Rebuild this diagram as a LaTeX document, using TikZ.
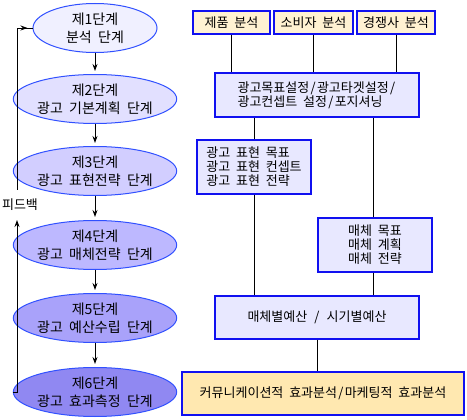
\documentclass[tikz,border=0pt]{standalone}
\usepackage{fontspec}
\setmainfont[WordSpace=2.0]{Noto Sans CJK KR}
\usetikzlibrary{shapes.geometric,arrows.meta,decorations.markings}
\definecolor{eA}{HTML}{F0F0FF}
\definecolor{eB}{HTML}{E2E0FF}
\definecolor{eC}{HTML}{D2CEFF}
\definecolor{eD}{HTML}{BDB8FF}
\definecolor{eE}{HTML}{A9A2FA}
\definecolor{eF}{HTML}{9088F2}
\definecolor{ebord}{HTML}{3050FF}
\definecolor{bbord}{HTML}{1010F0}
\definecolor{yfill}{HTML}{FFF2D2}
\definecolor{lfill}{HTML}{E8E8FF}
\definecolor{ofill}{HTML}{FFE8B0}
\newcommand{\slsh}{\kern1.3pt/\kern1.3pt}
\begin{document}
\begin{tikzpicture}[x=1pt,y=-1pt,
  every node/.style={font=\fontsize{13}{14}\selectfont},
  stage/.style={ellipse,draw=ebord,line width=1pt,minimum width=124pt,minimum height=49pt,inner sep=0pt,align=center,font=\fontsize{14}{18}\selectfont},
  ybox/.style={rectangle,draw=bbord,line width=1.2pt,fill=yfill,inner sep=0pt},
  lbox/.style={rectangle,draw=bbord,line width=1.2pt,fill=lfill,inner sep=0pt,align=left},
  conn/.style={draw=black,line width=0.9pt},
  midarrow/.style={postaction={decorate},decoration={markings,
      mark=at position -3pt with {\arrow{Stealth[length=7pt,width=5pt]}}}},
  endarrow/.style={postaction={decorate},decoration={markings,
      mark=at position -5pt with {\arrow{Stealth[length=7pt,width=5pt]}}}}
  ]
\useasboundingbox (0,0) rectangle (467,420);
% stages
\node[stage,fill=eA] (e1) at (95,28) {제1단계\\분석 단계};
\node[stage,fill=eB] (e2) at (95,99) {제2단계\\광고 기본계획 단계};
\node[stage,fill=eC] (e3) at (95,171) {제3단계\\광고 표현전략 단계};
\node[stage,fill=eD] (e4) at (95,245) {제4단계\\광고 매체전략 단계};
\node[stage,fill=eE] (e5) at (95,318) {제5단계\\광고 예산수립 단계};
\node[stage,fill=eF] (e6) at (95,392) {제6단계\\광고 효과측정 단계};
\foreach \a/\b in {e1/e2,e2/e3,e3/e4,e4/e5,e5/e6}
  \draw[conn,midarrow,shorten >=5pt] (\a.south) -- (\b.north);
% feedback
\node (fb) at (20,205) {피드백};
\coordinate (fblow) at (17,220);
\coordinate (fbup) at (17,190);
\draw[conn,-{Stealth[length=7pt,width=5pt]}] (e6.west) -| (fblow);
\draw[conn,endarrow] (fbup) |- (e1.west);
% right side
\node[ybox,minimum width=77pt,minimum height=23pt] (b1) at (231.5,22.5) {제품 분석};
\node[ybox,minimum width=79pt,minimum height=23pt] (b2) at (313.5,22.5) {소비자 분석};
\node[ybox,minimum width=78pt,minimum height=23pt] (b3) at (396,22.5) {경쟁사 분석};
\node[lbox,minimum width=204pt,minimum height=44pt] (big) at (317,95) {광고목표설정\slsh 광고타겟설정\slsh\\광고컨셉트 설정\slsh 포지셔닝};
\node[lbox,minimum width=114pt,minimum height=54pt] (pyo) at (254,167) {광고 표현 목표\\광고 표현 컨셉트\\광고 표현 전략};
\node[lbox,minimum width=114pt,minimum height=54pt] (med) at (375,245) {매체 목표\\매체 계획\\매체 전략};
\node[lbox,minimum width=204pt,minimum height=43pt] (bud) at (317,317.5) {매체별예산 \slsh\ 시기별예산};
\node[rectangle,draw=bbord,line width=1.2pt,fill=ofill,minimum width=282pt,minimum height=43pt] (fin) at (323,393.5) {커뮤니케이션적 효과분석\slsh 마케팅적 효과분석};
\draw[conn] (b1.south) -- (b1.south |- big.north);
\draw[conn] (b2.south) -- (b2.south |- big.north);
\draw[conn] (b3.south) -- (b3.south |- big.north);
\draw[conn] (pyo.north) -- (pyo.north |- big.south);
\draw[conn] (med.north -| 373,0) -- (big.south -| 373,0);
\draw[conn] (pyo.south) -- (pyo.south |- bud.north);
\draw[conn] (med.south -| 373,0) -- (bud.north -| 373,0);
\draw[conn] (bud.south) -- (bud.south |- fin.north);
\end{tikzpicture}
\end{document}
